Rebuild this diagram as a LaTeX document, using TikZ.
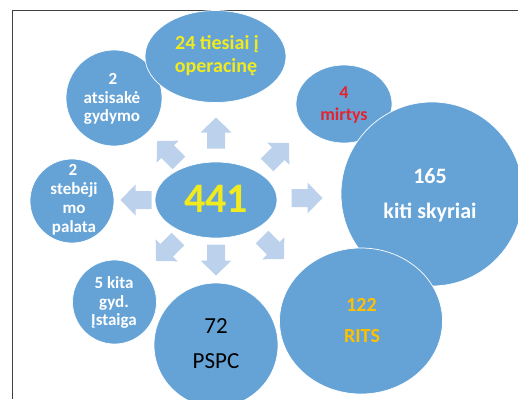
\documentclass[tikz,border=0pt]{standalone}
\usepackage{fontspec}
\setmainfont{Carlito}
\definecolor{bub}{HTML}{65A3D7}
\definecolor{arr}{HTML}{BCD1EB}
\definecolor{yel}{HTML}{F0EA1E}
\definecolor{redt}{HTML}{E5232C}
\definecolor{gold}{HTML}{FFC000}
\definecolor{frame}{HTML}{404040}
\tikzset{
  bubble/.style={ellipse, fill=bub, draw=white, line width=0.7pt, inner sep=0pt},
  lbl/.style={anchor=base, inner sep=0pt, font=\bfseries\fontsize{#1}{#1}\selectfont},
  lbl/.default=17,
  blockarrow/.pic={\fill[arr] (-15.5,-9) -- (0.5,-9) -- (0.5,-15.5) -- (15.5,0) -- (0.5,15.5) -- (0.5,9) -- (-15.5,9) -- cycle;}
}
\usetikzlibrary{shapes.geometric}
\begin{document}
\begin{tikzpicture}[x=1pt,y=-1pt]
\useasboundingbox (0,0) rectangle (518,399);
\draw[frame, line width=1pt] (12.5,399) -- (12.5,10.5) -- (518,10.5);
% bubbles
\node[bubble, minimum width=96pt, minimum height=96pt] (atsi) at (114,98) {};
\node[bubble, minimum width=141pt, minimum height=92pt] (tiesiai) at (215.5,56.5) {};
\node[bubble, minimum width=96pt, minimum height=78pt] (mirt) at (344,104) {};
\node[bubble, minimum width=182pt, minimum height=184pt] (kiti) at (432,194) {};
\node[bubble, minimum width=163pt, minimum height=146pt] (rits) at (361,321) {};
\node[bubble, minimum width=124pt, minimum height=124pt] (pspc) at (216,345) {};
\node[bubble, minimum width=84pt, minimum height=84pt] (kita) at (114.5,302) {};
\node[bubble, minimum width=84pt, minimum height=84pt] (steb) at (72,201) {};
\node[bubble, minimum width=122pt, minimum height=76pt] (center) at (216,200) {};
% arrows
\pic[rotate=90] at (216,133) {blockarrow};
\pic[rotate=-90] at (216,260) {blockarrow};
\pic[rotate=0] at (307,198) {blockarrow};
\pic[rotate=180] at (136,200) {blockarrow};
\pic[rotate=135] at (168,152) {blockarrow};
\pic[rotate=45] at (278,154) {blockarrow};
\pic[rotate=-135] at (167,250) {blockarrow};
\pic[rotate=-45] at (273,248) {blockarrow};
% labels
\node[lbl=42, text=yel] (c1) at (216,212) {441};
\node[lbl=20, text=yel] (t1) at (217,49) {24 tiesiai į};
\node[lbl=20, text=yel] (t2) at (216,72) {operacinę};
\node[lbl=17, text=white] (a1) at (113,84) {2};
\node[lbl=17, text=white] (a2) at (112,103) {atsisakė};
\node[lbl=17, text=white] (a3) at (112,121) {gydymo};
\node[lbl=17, text=white] (s1) at (73,175) {2};
\node[lbl=17, text=white] (s2) at (74,194) {stebėji};
\node[lbl=17, text=white] (s3) at (74,213) {mo};
\node[lbl=17, text=white] (s4) at (74,232) {palata};
\node[lbl=18, text=redt] (m1) at (344,98) {4};
\node[lbl=18, text=redt] (m2) at (344,120) {mirtys};
\node[lbl=22, text=white] (k1) at (430,183) {165};
\node[lbl=22, text=white] (k2) at (430,218) {kiti skyriai};
\node[lbl=20, text=gold] (r1) at (361.5,311) {122};
\node[lbl=20, text=gold] (r2) at (362,342) {RITS};
\node[anchor=base, inner sep=0pt, font=\fontsize{23}{23}\selectfont] (p1) at (216,333) {72};
\node[anchor=base, inner sep=0pt, font=\fontsize{23}{23}\selectfont] (p2) at (216,368) {PSPC};
\node[lbl=17, text=white] (g1) at (114,288) {5 kita};
\node[lbl=17, text=white] (g2) at (114,307) {gyd.};
\node[lbl=17, text=white] (g3) at (114,325) {Įstaiga};
\end{tikzpicture}
\end{document}
